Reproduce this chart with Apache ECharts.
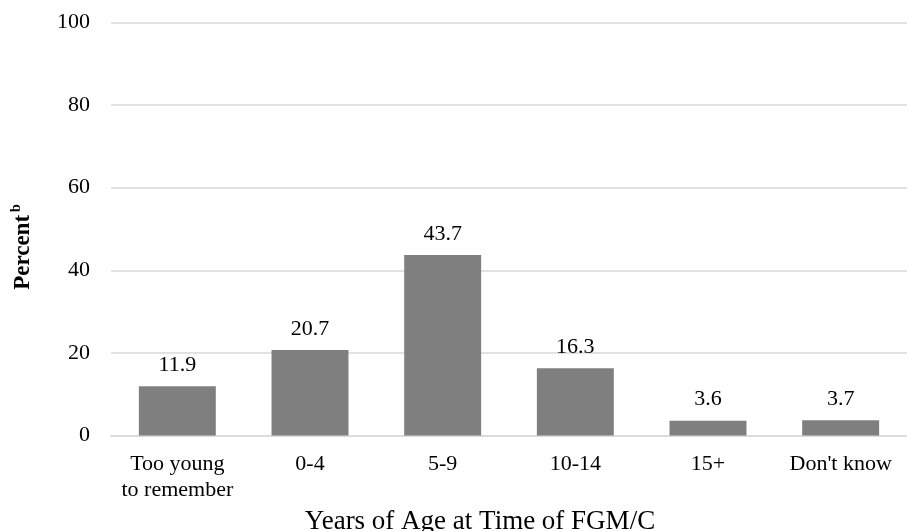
<!DOCTYPE html>
<html>
<head>
<meta charset="utf-8">
<script src="https://cdn.jsdelivr.net/npm/echarts@6/dist/echarts.min.js"></script>
<style>html,body{margin:0;padding:0;background:#fff}#c{width:907px;height:531px}</style>
</head>
<body>
<div id="c"></div>
<script>
const categories = ['Too young\nto remember', '0-4', '5-9', '10-14', '15+', "Don't know"];
const values = [11.9, 20.7, 43.7, 16.3, 3.6, 3.7];
const yTicks = { min: 0, max: 100, interval: 20 };

const FONT = '"Liberation Serif", "Times New Roman", serif';
const chart = echarts.init(document.getElementById('c'));
chart.setOption({
  animation: false,
  textStyle: { fontFamily: FONT },
  grid: { left: 111, right: 0, top: 22.5, bottom: 95.5, containLabel: false, outerBoundsMode: 'none' },
  xAxis: {
    type: 'category',
    data: categories,
    axisLine: { lineStyle: { color: '#d9d9d9', width: 1.5 } },
    axisTick: { show: false },
    axisLabel: { interval: 0, hideOverlap: false, color: '#000', fontFamily: FONT, fontSize: 22, lineHeight: 26, margin: 16 },
    name: 'Years of Age at Time of FGM/C',
    nameLocation: 'middle',
    nameGap: 73,
    nameTextStyle: { color: '#000', fontFamily: FONT, fontSize: 27, padding: [0, 58, 0, 0] }
  },
  yAxis: {
    type: 'value',
    min: yTicks.min, max: yTicks.max, interval: yTicks.interval,
    axisLine: { show: false },
    axisTick: { show: false },
    splitLine: { lineStyle: { color: '#d9d9d9', width: 1.5 } },
    axisLabel: { color: '#000', fontFamily: FONT, fontSize: 22, margin: 21 },
    name: '{a|Percent} {b|b}',
    nameLocation: 'middle',
    nameGap: 76,
    nameTextStyle: {
      padding: [0, 36, 0, 0],
      rich: {
        a: { fontFamily: FONT, fontSize: 23, fontWeight: 'bold', color: '#000', lineHeight: 26, verticalAlign: 'bottom' },
        b: { fontFamily: FONT, fontSize: 14, fontWeight: 'bold', color: '#000', lineHeight: 26, verticalAlign: 'top' }
      }
    }
  },
  series: [{
    type: 'bar',
    data: values,
    barCategoryGap: '42%',
    itemStyle: { color: '#7f7f7f' },
    label: { show: true, position: 'top', distance: 10, color: '#000', fontFamily: FONT, fontSize: 22, formatter: p => p.value.toFixed(1) }
  }]
});
</script>
</body>
</html>
